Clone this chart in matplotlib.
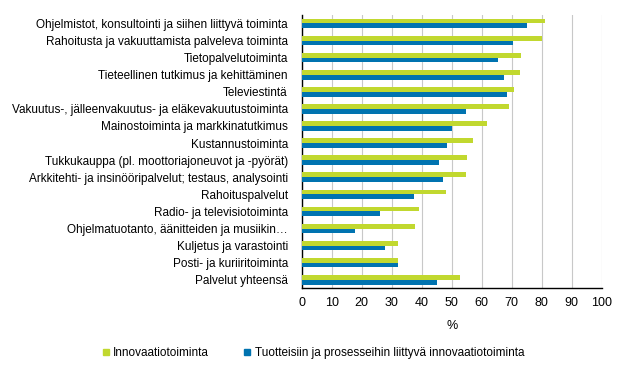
import matplotlib.pyplot as plt
import numpy as np
from matplotlib.lines import Line2D

plt.rcParams['font.family'] = ['Liberation Sans', 'DejaVu Sans']

# Toimialat (ylhäältä alas)
toimialat = [
    'Ohjelmistot, konsultointi ja siihen liittyvä toiminta',
    'Rahoitusta ja vakuuttamista palveleva toiminta',
    'Tietopalvelutoiminta',
    'Tieteellinen tutkimus ja kehittäminen',
    'Televiestintä',
    'Vakuutus-, jälleenvakuutus- ja eläkevakuutustoiminta',
    'Mainostoiminta ja markkinatutkimus',
    'Kustannustoiminta',
    'Tukkukauppa (pl. moottoriajoneuvot ja -pyörät)',
    'Arkkitehti- ja insinööripalvelut; testaus, analysointi',
    'Rahoituspalvelut',
    'Radio- ja televisiotoiminta',
    'Ohjelmatuotanto, äänitteiden ja musiikin…',
    'Kuljetus ja varastointi',
    'Posti- ja kuriiritoiminta',
    'Palvelut yhteensä',
]
innovaatio = [81.1, 80.0, 73.1, 72.8, 70.8, 69.1, 61.8, 57.1,
              55.1, 54.8, 48.1, 39.1, 37.8, 32.1, 32.1, 52.8]
tuote_prosessi = [75.1, 70.4, 65.4, 67.4, 68.4, 54.8, 50.1, 48.4,
                  45.8, 47.1, 37.4, 26.1, 17.8, 27.8, 32.1, 45.1]

vihrea = '#c1d82f'
sininen = '#0073b0'

fig = plt.figure(figsize=(6.26, 3.73), dpi=100)
ax = fig.add_axes([0.482, 0.227, 0.479, 0.733])

y = np.arange(len(toimialat))
h = 0.28
ax.barh(y - h / 2, innovaatio, height=h, color=vihrea, zorder=3)
ax.barh(y + h / 2, tuote_prosessi, height=h, color=sininen, zorder=3)

ax.set_ylim(len(toimialat) - 0.5, -0.5)
ax.set_xlim(0, 100)
ax.set_xticks(range(0, 101, 10))
ax.set_yticks(y)
ax.set_yticklabels(toimialat, fontsize=8.5)
ax.tick_params(axis='y', length=0, pad=10)
ax.tick_params(axis='x', length=0, pad=6, labelsize=9)
ax.set_xlabel('%', fontsize=9, labelpad=8)

ax.grid(axis='x', color='#c8c8c8', linewidth=0.8, zorder=0)
for s in ['top', 'right']:
    ax.spines[s].set_visible(False)
for s in ['left', 'bottom']:
    ax.spines[s].set_color('black')
    ax.spines[s].set_linewidth(1)

kahvat = [
    Line2D([], [], marker='s', linestyle='none', color=vihrea, markersize=5),
    Line2D([], [], marker='s', linestyle='none', color=sininen, markersize=5),
]
fig.legend(kahvat, ['Innovaatiotoiminta',
                    'Tuotteisiin ja prosesseihin liittyvä innovaatiotoiminta'],
           loc='center', bbox_to_anchor=(0.5, 0.053), ncol=2, frameon=False,
           fontsize=8.5, handlelength=0.6, handletextpad=0.3, columnspacing=3)

fig.savefig('out.png', dpi=100)
